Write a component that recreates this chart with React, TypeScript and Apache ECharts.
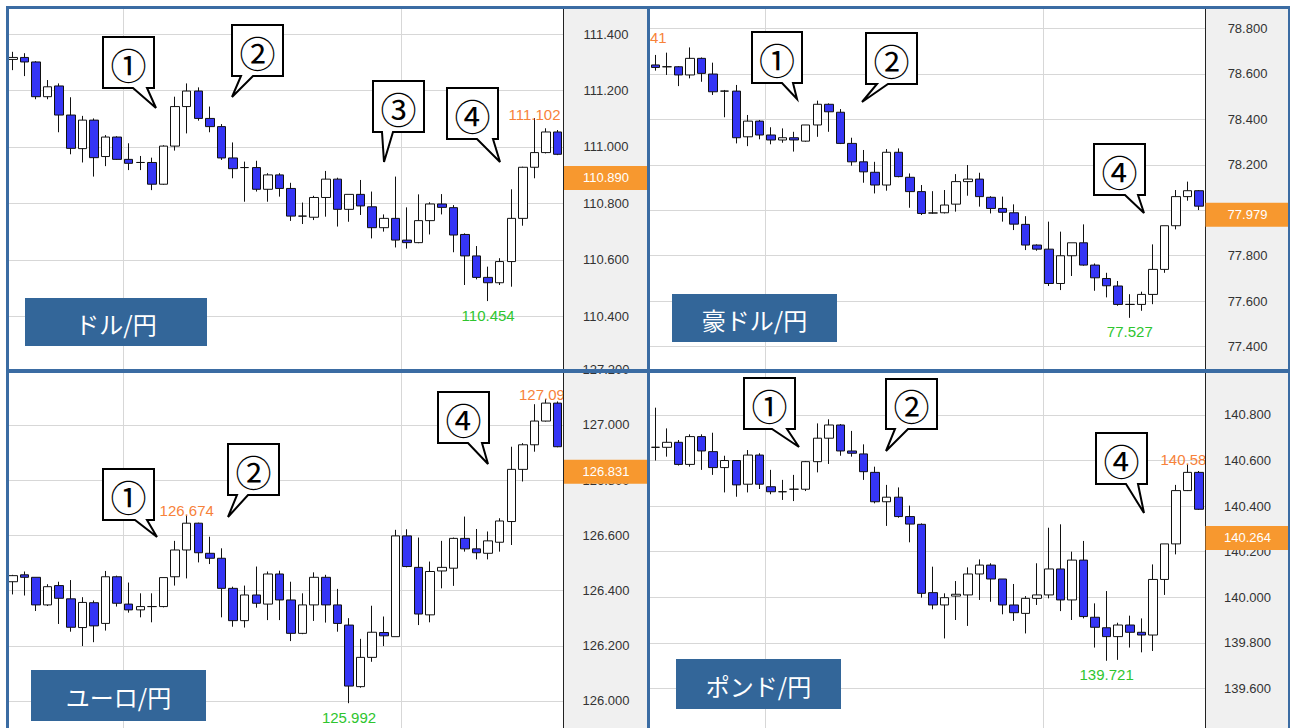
import React, { useEffect, useRef } from 'react';
import * as echarts from 'echarts';

// ---- DATA: hourly candles, each [open, close, low, high] ----
const usdJpyOHLC: number[][] = [
  [111.310, 111.317, 111.272, 111.337], [111.317, 111.301, 111.251, 111.332], [111.301, 111.178, 111.169, 111.304],
  [111.178, 111.213, 111.169, 111.237], [111.216, 111.113, 111.052, 111.225], [111.113, 110.995, 110.974, 111.176],
  [110.994, 111.095, 110.945, 111.110], [111.095, 110.962, 110.895, 111.101], [110.966, 111.035, 110.932, 111.042],
  [111.035, 110.956, 110.954, 111.038], [110.956, 110.942, 110.918, 111.013], [110.945, 110.945, 110.918, 110.968],
  [110.945, 110.868, 110.847, 110.962], [110.868, 111.003, 110.866, 111.006], [111.003, 111.143, 110.987, 111.178],
  [111.143, 111.198, 111.048, 111.225], [111.198, 111.101, 111.093, 111.211], [111.101, 111.072, 111.052, 111.143],
  [111.072, 110.961, 110.954, 111.081], [110.961, 110.923, 110.889, 111.016], [110.927, 110.927, 110.806, 110.948],
  [110.927, 110.850, 110.842, 110.951], [110.850, 110.901, 110.806, 110.907], [110.901, 110.853, 110.824, 110.907],
  [110.853, 110.755, 110.738, 110.873], [110.755, 110.755, 110.727, 110.803], [110.751, 110.821, 110.741, 110.827],
  [110.821, 110.886, 110.753, 110.915], [110.886, 110.779, 110.718, 110.891], [110.779, 110.832, 110.735, 110.832],
  [110.832, 110.791, 110.759, 110.883], [110.788, 110.714, 110.676, 110.842], [110.714, 110.747, 110.700, 110.761],
  [110.747, 110.670, 110.644, 110.895], [110.670, 110.661, 110.640, 110.786], [110.661, 110.739, 110.659, 110.832],
  [110.739, 110.798, 110.690, 110.804], [110.798, 110.786, 110.761, 110.833], [110.785, 110.688, 110.627, 110.794],
  [110.690, 110.614, 110.511, 110.694], [110.614, 110.538, 110.531, 110.649], [110.538, 110.519, 110.454, 110.576],
  [110.519, 110.594, 110.511, 110.606], [110.594, 110.747, 110.505, 110.850], [110.747, 110.928, 110.721, 110.930],
  [110.928, 110.980, 110.889, 111.102], [110.980, 111.053, 110.977, 111.066], [111.053, 110.974, 110.971, 111.060],
];

// first candle is the hour just before the visible window (its high carries the 78.741 mark)
const audJpyOHLC: number[][] = [
  [78.700, 78.645, 78.625, 78.741],
  [78.639, 78.628, 78.614, 78.683], [78.631, 78.631, 78.595, 78.693], [78.631, 78.595, 78.546, 78.634],
  [78.595, 78.668, 78.580, 78.716], [78.668, 78.602, 78.565, 78.672], [78.599, 78.521, 78.507, 78.649],
  [78.524, 78.524, 78.409, 78.529], [78.524, 78.319, 78.294, 78.551], [78.323, 78.392, 78.282, 78.419],
  [78.392, 78.331, 78.312, 78.397], [78.331, 78.309, 78.290, 78.365], [78.309, 78.319, 78.297, 78.360],
  [78.319, 78.309, 78.258, 78.345], [78.304, 78.375, 78.301, 78.375], [78.375, 78.466, 78.323, 78.482],
  [78.466, 78.433, 78.345, 78.470], [78.431, 78.294, 78.291, 78.445], [78.294, 78.213, 78.196, 78.319],
  [78.213, 78.169, 78.121, 78.265], [78.167, 78.111, 78.074, 78.213], [78.111, 78.255, 78.086, 78.269],
  [78.255, 78.148, 78.145, 78.272], [78.145, 78.082, 78.011, 78.162], [78.082, 77.986, 77.979, 78.111],
  [77.988, 77.988, 77.985, 78.084], [77.989, 78.023, 77.986, 78.089], [78.027, 78.126, 77.994, 78.159],
  [78.126, 78.137, 78.064, 78.199], [78.137, 78.060, 78.016, 78.165], [78.057, 78.008, 77.986, 78.062],
  [78.008, 77.991, 77.950, 78.060], [77.989, 77.939, 77.913, 78.026], [77.938, 77.847, 77.825, 77.974],
  [77.847, 77.829, 77.822, 77.850], [77.829, 77.678, 77.667, 77.950], [77.678, 77.800, 77.649, 77.906],
  [77.800, 77.857, 77.711, 77.857], [77.857, 77.759, 77.756, 77.938], [77.759, 77.703, 77.646, 77.766],
  [77.700, 77.668, 77.617, 77.725], [77.667, 77.586, 77.580, 77.689], [77.586, 77.586, 77.527, 77.631],
  [77.586, 77.630, 77.558, 77.642], [77.630, 77.740, 77.587, 77.850], [77.740, 77.932, 77.725, 77.932],
  [77.932, 78.060, 77.916, 78.089], [78.060, 78.086, 78.042, 78.126], [78.086, 78.018, 78.001, 78.089],
];

const eurJpyOHLC: number[][] = [
  [126.432, 126.454, 126.386, 126.457], [126.457, 126.448, 126.382, 126.469], [126.448, 126.348, 126.326, 126.448],
  [126.348, 126.414, 126.344, 126.423], [126.418, 126.372, 126.279, 126.432], [126.370, 126.267, 126.251, 126.438],
  [126.266, 126.357, 126.199, 126.376], [126.356, 126.272, 126.213, 126.364], [126.281, 126.450, 126.255, 126.471],
  [126.450, 126.354, 126.342, 126.454], [126.351, 126.330, 126.320, 126.429], [126.330, 126.342, 126.303, 126.390],
  [126.342, 126.342, 126.285, 126.390], [126.342, 126.447, 126.339, 126.447], [126.450, 126.547, 126.418, 126.580],
  [126.547, 126.644, 126.444, 126.674], [126.644, 126.537, 126.502, 126.646], [126.535, 126.517, 126.496, 126.595],
  [126.517, 126.408, 126.303, 126.553], [126.408, 126.291, 126.269, 126.414], [126.291, 126.384, 126.266, 126.418],
  [126.384, 126.354, 126.338, 126.487], [126.351, 126.460, 126.293, 126.469], [126.460, 126.366, 126.293, 126.472],
  [126.366, 126.245, 126.217, 126.432], [126.245, 126.348, 126.242, 126.390], [126.348, 126.448, 126.290, 126.466],
  [126.448, 126.348, 126.284, 126.457], [126.348, 126.281, 126.251, 126.406], [126.275, 126.054, 125.992, 126.300],
  [126.052, 126.158, 126.048, 126.225], [126.158, 126.249, 126.142, 126.345], [126.248, 126.236, 126.199, 126.306],
  [126.233, 126.598, 126.233, 126.620], [126.598, 126.487, 126.484, 126.622], [126.484, 126.315, 126.275, 126.592],
  [126.312, 126.469, 126.285, 126.505], [126.471, 126.484, 126.408, 126.580], [126.481, 126.589, 126.417, 126.592],
  [126.589, 126.551, 126.541, 126.668], [126.551, 126.537, 126.513, 126.623], [126.535, 126.580, 126.513, 126.614],
  [126.575, 126.652, 126.541, 126.662], [126.650, 126.839, 126.565, 126.921], [126.839, 126.928, 126.795, 126.934],
  [126.928, 127.014, 126.903, 127.075], [127.014, 127.079, 127.012, 127.094], [127.079, 126.921, 126.919, 127.085],
];

const gbpJpyOHLC: number[][] = [
  [140.658, 140.658, 140.600, 140.832], [140.658, 140.680, 140.617, 140.741], [140.680, 140.583, 140.578, 140.690],
  [140.583, 140.705, 140.573, 140.715], [140.705, 140.642, 140.559, 140.715], [140.639, 140.569, 140.537, 140.722],
  [140.569, 140.600, 140.460, 140.621], [140.600, 140.493, 140.441, 140.602], [140.496, 140.624, 140.460, 140.646],
  [140.624, 140.496, 140.475, 140.632], [140.485, 140.463, 140.452, 140.559], [140.463, 140.463, 140.427, 140.515],
  [140.474, 140.474, 140.422, 140.537], [140.474, 140.595, 140.466, 140.598], [140.595, 140.698, 140.548, 140.763],
  [140.698, 140.756, 140.585, 140.781], [140.756, 140.642, 140.621, 140.760], [140.642, 140.632, 140.617, 140.730],
  [140.629, 140.551, 140.515, 140.671], [140.548, 140.419, 140.412, 140.573], [140.419, 140.439, 140.313, 140.493],
  [140.439, 140.354, 140.349, 140.482], [140.354, 140.321, 140.241, 140.402], [140.320, 140.017, 139.998, 140.324],
  [140.020, 139.966, 139.947, 140.134], [139.966, 139.998, 139.819, 140.017], [140.005, 140.013, 139.900, 140.071],
  [140.010, 140.102, 139.874, 140.131], [140.102, 140.141, 139.988, 140.166], [140.141, 140.080, 139.980, 140.149],
  [140.080, 139.966, 139.925, 140.080], [139.966, 139.932, 139.896, 140.058], [139.929, 139.995, 139.841, 140.005],
  [139.995, 140.010, 139.966, 140.149], [140.010, 140.124, 139.995, 140.305], [140.124, 139.988, 139.939, 140.320],
  [139.988, 140.163, 139.900, 140.200], [140.163, 139.915, 139.907, 140.247], [139.912, 139.868, 139.779, 139.973],
  [139.866, 139.827, 139.721, 140.027], [139.827, 139.878, 139.725, 139.888], [139.878, 139.846, 139.779, 139.919],
  [139.846, 139.834, 139.758, 139.907], [139.834, 140.078, 139.764, 140.144], [140.078, 140.234, 140.010, 140.234],
  [140.234, 140.468, 140.188, 140.493], [140.468, 140.548, 140.466, 140.585], [140.548, 140.386, 140.383, 140.554],
];

const pairNames = ['ドル/円', '豪ドル/円', 'ユーロ/円', 'ポンド/円'];
const currentPrices = [110.890, 77.979, 126.831, 140.264];
const dayStartIndex = [[10, 34], [11, 35], [10, 34], [10, 34]];
const highMarkIndex = [[45], [0], [15, 46], [46]];
const lowMarkIndex = [[41], [42], [29], [39]];
const axisMin = [110.2, 77.2, 125.8, 139.4];
const axisMax = [111.4886, 78.885, 127.2, 141.0];
const showMinTick = [false, false, false, true];
const showMaxTick = [false, false, true, false];
const tickStep = 0.2;
const calloutLabels = [['①', '②', '③', '④'], ['①', '②', '④'], ['①', '②', '④'], ['①', '②', '④']];

// ---- LAYOUT (pixels) ----
const GRIDS = [
  { left: 7, top: 9, width: 556.5, height: 363.8 },
  { left: 637.93, top: 9, width: 567.07, height: 383.2 },
  { left: 7, top: 369.7, width: 556.5, height: 386.5 },
  { left: 649.5, top: 369.4, width: 555.5, height: 364.5 },
];
// [x1, y1, x2, y2, tailBaseX1, tailBaseX2, tipX, tipY]
const CALLOUT_BOXES = [
  [[103, 37, 154, 88, 133, 147, 156, 108], [232, 25, 283, 76, 241, 253, 232, 97], [373, 81, 424, 132, 382, 393, 384, 162], [447, 88, 498, 139, 477, 493, 500, 162]],
  [[752, 32, 802, 83, 782, 793, 797, 99], [866, 33, 917, 84, 877, 888, 862, 102], [1094, 144, 1145, 195, 1125, 1138, 1144, 213]],
  [[103, 469, 154, 520, 135, 147, 157, 537], [228, 444, 279, 495, 237, 248, 228, 517], [438, 392, 489, 443, 468, 482, 488, 464]],
  [[744, 378, 795, 429, 772, 787, 799, 447], [886, 379, 937, 429, 895, 908, 886, 451], [1096, 433, 1147, 484, 1126, 1138, 1144, 513]],
];
const NAME_BOXES = [[25, 298, 182, 48], [672, 294, 165, 48], [31, 670, 175, 51], [676, 659, 165, 50]];

const FONT = '"Liberation Sans", Arial, sans-serif';
const JP = '"Noto Sans CJK JP", "Noto Sans", sans-serif';
const BLUE = '#3535f5';
const FRAME = '#3b6ca3';
const GRID_LINE = '#d7d7d7';
const ORANGE_TXT = '#f7823a';
const GREEN_TXT = '#2ec52e';
const PRICE_BG = '#f7982f';

const ohlcs = [usdJpyOHLC, audJpyOHLC, eurJpyOHLC, gbpJpyOHLC];

function buildOption() {
  const grid = GRIDS.map((g) => ({ ...g, containLabel: false, outerBoundsMode: 'none' }));
  const xAxis = ohlcs.map((d, k) => ({
    type: 'category',
    gridIndex: k,
    data: d.map((_, i) => String(i)),
    boundaryGap: true,
    axisLine: { show: false },
    axisTick: { show: false },
    axisLabel: { show: false },
    splitLine: {
      show: true,
      interval: (i: number) => dayStartIndex[k].includes(i),
      lineStyle: { color: GRID_LINE, width: 1 },
    },
  }));
  const yAxis: any[] = [];
  ohlcs.forEach((_, k) => {
    yAxis.push({
      type: 'value', gridIndex: k, position: 'right', min: axisMin[k], max: axisMax[k], interval: tickStep,
      z: 0,
      axisLine: { show: false }, axisTick: { show: false }, axisLabel: { show: false },
      splitLine: { show: true, showMinLine: false, showMaxLine: false, lineStyle: { color: GRID_LINE, width: 1 } },
    });
    yAxis.push({
      type: 'value', gridIndex: k, position: 'right', min: axisMin[k], max: axisMax[k], interval: tickStep,
      z: 6,
      axisLine: { show: true, lineStyle: { color: '#222', width: 1 } },
      axisTick: { show: false },
      splitLine: { show: false },
      axisLabel: {
        show: true, margin: 42.5, align: 'center', color: '#333', fontSize: 13, fontFamily: FONT,
        showMinLabel: showMinTick[k], showMaxLabel: showMaxTick[k],
        formatter: (v: number) => v.toFixed(3),
      },
    });
  });

  const series = ohlcs.map((d, k) => ({
    type: 'candlestick',
    xAxisIndex: k,
    yAxisIndex: 2 * k,
    data: d,
    barWidth: 9,
    clip: false,
    silent: true,
    z: 2,
    itemStyle: { color: '#ffffff', color0: BLUE, borderColor: '#111', borderColor0: '#111', borderWidth: 1 },
    markPoint: {
      z: 3,
      silent: true,
      symbol: 'circle',
      symbolSize: 1,
      itemStyle: { color: 'rgba(0,0,0,0)' },
      label: { show: true, position: 'inside', fontSize: 15, fontFamily: FONT, formatter: (p: any) => Number(p.value).toFixed(3) },
      data: [
        ...highMarkIndex[k].map((i) => ({
          coord: [i, d[i][3]], value: d[i][3],
          label: { color: ORANGE_TXT, offset: [0, -4] },
        })),
        ...lowMarkIndex[k].map((i) => ({
          coord: [i, d[i][2]], value: d[i][2],
          label: { color: GREEN_TXT, offset: [0, 14] },
        })),
      ],
    },
    markLine: {
      z: 8,
      silent: true,
      symbol: ['none', 'none'],
      lineStyle: { color: 'rgba(0,0,0,0)', width: 1 },
      label: {
        show: true, position: 'end', distance: 0.5,
        formatter: '{p|' + currentPrices[k].toFixed(3) + '}',
        rich: {
          p: {
            width: 84, height: 24, lineHeight: 24, align: 'center', backgroundColor: PRICE_BG,
            color: '#fff', fontSize: 13, fontFamily: FONT,
          },
        },
      },
      data: [{ yAxis: currentPrices[k] }],
    },
  }));

  const elements: any[] = [];
  // axis strips
  elements.push({ type: 'rect', z: 4, shape: { x: 563.5, y: 9, width: 84.5, height: 719 }, style: { fill: '#f0f0f0' } });
  elements.push({ type: 'rect', z: 4, shape: { x: 1205, y: 9, width: 85, height: 719 }, style: { fill: '#f0f0f0' } });
  // callouts
  CALLOUT_BOXES.forEach((boxes, k) => {
    boxes.forEach((b, j) => {
      const [x1, y1, x2, y2, bx1, bx2, tx, ty] = b;
      elements.push({
        type: 'polygon', z: 9,
        shape: { points: [[x1, y1], [x2, y1], [x2, y2], [bx2, y2], [tx, ty], [bx1, y2], [x1, y2]] },
        style: { fill: '#fff', stroke: '#000', lineWidth: 2, lineJoin: 'miter' },
      });
      elements.push({
        type: 'text', z: 9, x: (x1 + x2) / 2, y: (y1 + y2) / 2 + 1,
        style: { text: calloutLabels[k][j], fill: '#000', fontSize: 36, fontFamily: JP, align: 'center', verticalAlign: 'middle', textAlign: 'center', textVerticalAlign: 'middle' },
      });
    });
  });
  // pair name boxes
  NAME_BOXES.forEach((b, k) => {
    const [x, y, w, h] = b;
    elements.push({ type: 'rect', z: 9, shape: { x, y, width: w, height: h }, style: { fill: '#336699' } });
    elements.push({
      type: 'text', z: 9, x: x + w / 2, y: y + h / 2 + 1,
      style: { text: pairNames[k], fill: '#fff', fontSize: 24, fontFamily: JP, align: 'center', verticalAlign: 'middle', textAlign: 'center', textVerticalAlign: 'middle' },
    });
  });
  // frame
  const frameRects = [
    [6, 6, 1284, 3], [6, 6, 3, 722], [647, 6, 3, 722], [6, 369, 1284, 4], [1288, 6, 2, 722],
  ];
  frameRects.forEach(([x, y, w, h]) => {
    elements.push({ type: 'rect', z: 10, shape: { x, y, width: w, height: h }, style: { fill: FRAME } });
  });

  return {
    animation: false,
    backgroundColor: '#ffffff',
    grid,
    xAxis,
    yAxis,
    series,
    graphic: { elements },
  };
}

export default function App() {
  const ref = useRef<HTMLDivElement>(null);
  useEffect(() => {
    if (!ref.current) return;
    const chart = echarts.init(ref.current, undefined, { renderer: 'svg' });
    chart.setOption(buildOption() as any);
    return () => chart.dispose();
  }, []);
  return (
    <div
      ref={ref}
      style={{ position: 'fixed', left: 0, top: 0, width: 1290, height: 728, background: '#fff' }}
    />
  );
}
